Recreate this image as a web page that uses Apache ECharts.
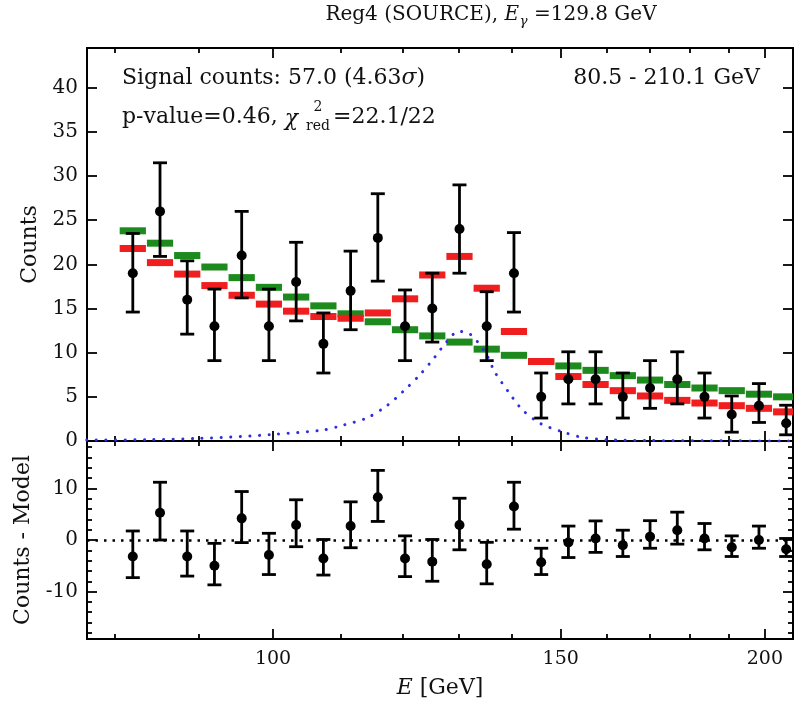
<!DOCTYPE html>
<html><head><meta charset="utf-8">
<script src="https://cdn.jsdelivr.net/npm/echarts@6/dist/echarts.min.js"></script>
<style>html,body{margin:0;padding:0;background:#fff}#c{width:794px;height:709px}</style>
</head><body><div id="c"></div>
<script>
// ---------------- data ----------------
const binEdges = [80.50, 83.65, 86.92, 90.32, 93.85, 97.53, 101.34, 105.31, 109.43, 113.71, 118.15, 122.78, 127.58,
  132.57, 137.76, 143.15, 148.75, 154.56, 160.61, 166.89, 173.42, 180.21, 187.26, 194.58, 202.19, 210.10];
const counts   = [19, 26, 16, 13, 21, 13, 18, 11, 17, 23, 13, 15, 24, 13, 19, 5, 7, 7, 5, 6, 7, 5, 3, 4, 2];
const countsLo = [14.6, 20.9, 12.1, 9.1, 16.2, 9.1, 13.6, 7.7, 12.6, 18.1, 9.1, 11.2, 19.0, 9.1, 14.6, 2.6, 4.2, 4.2, 2.6, 3.7, 4.2, 2.6, 1.0, 2.1, 0.7];
const countsHi = [23.5, 31.5, 20.4, 17.2, 26.0, 17.2, 22.5, 14.5, 21.5, 28.0, 17.1, 19.0, 29.0, 16.9, 23.6, 7.7, 10.1, 10.1, 7.7, 9.1, 10.1, 7.7, 5.1, 6.5, 4.05];
const modelTotal = [21.8, 20.2, 18.9, 17.6, 16.5, 15.5, 14.7, 14.1, 13.9, 14.5, 16.1, 18.8, 20.9, 17.3, 12.4, 9.0, 7.3, 6.4, 5.7, 5.1, 4.6, 4.3, 4.0, 3.7, 3.3];
const background = [23.8, 22.4, 21.0, 19.7, 18.5, 17.4, 16.3, 15.3, 14.4, 13.5, 12.6, 11.9, 11.2, 10.4, 9.7, 9.0, 8.5, 8.0, 7.4, 6.9, 6.4, 6.0, 5.7, 5.3, 5.0];
const residual   = [-3.2, 5.3, -3.2, -5.0, 4.2, -2.9, 2.9, -3.6, 2.7, 8.3, -3.6, -4.2, 2.9, -4.7, 6.5, -4.3, -0.5, 0.3, -1.0, 0.65, 1.9, 0.3, -1.4, 0.0, -1.8];
const residualLo = [-7.3, 0.0, -7.0, -8.7, -0.5, -6.7, -1.3, -6.8, -1.5, 3.6, -7.1, -8.0, -1.9, -8.5, 2.1, -6.7, -3.4, -2.4, -3.2, -1.6, -0.8, -1.9, -3.2, -1.6, -3.2];
const residualHi = [1.75, 11.2, 1.75, -0.65, 9.4, 1.3, 7.8, 0.1, 7.4, 13.5, 0.8, 0.1, 8.1, -0.45, 11.2, -1.6, 2.7, 3.7, 1.9, 3.75, 5.4, 3.2, 0.8, 2.7, 0.3];
const signalE = [76.9, 84.1, 90.2, 95.5, 100, 107.3, 110.4, 114.1, 117.4, 120.1, 123.0, 125.6, 127.8, 129.8, 131.8, 134.8, 136.7, 139.3, 142.0, 145.7, 150.3, 154.7, 160.0, 170.0, 185.0, 208.0];
const signalV = [0.1, 0.15, 0.3, 0.5, 0.75, 1.24, 1.8, 2.6, 4.0, 5.6, 7.5, 9.5, 11.3, 12.4, 12.2, 10.1, 7.8, 5.6, 3.6, 2.0, 1.05, 0.4, 0.15, 0.05, 0.02, 0.01];
const xMajorTicks = [100, 150, 200];
const xMinorTicks = [80, 90, 110, 120, 130, 140, 160, 170, 180, 190];
const yTopTicks = [0, 5, 10, 15, 20, 25, 30, 35, 40];
const yResMajor = [-10, 0, 10];
const yResMinor = [-18, -16, -14, -12, -8, -6, -4, -2, 2, 4, 6, 8, 12, 14, 16, 18];

// ---------------- layout ----------------
const FONT = 'DejaVu Serif';
const lg = v => Math.log10(v);
const X_MIN = lg(76.93), X_MAX = lg(208.1);
const G_LEFT = 87, G_W = 706;
const TOP_Y = 48, MID_Y = 441, BOT_Y = 639;

const ctx = document.createElement('canvas').getContext('2d');
function tw(text, size, style) { ctx.font = (style || '') + ' ' + size + 'px "' + FONT + '"'; return ctx.measureText(text).width; }

function xAxisDef(grid, pos, vals, len, label) {
  const a = {
    type: 'value', gridIndex: grid, position: pos, min: X_MIN, max: X_MAX,
    axisLine: { show: false, onZero: false }, splitLine: { show: false },
    axisTick: { show: true, inside: true, length: len, customValues: vals.map(lg), lineStyle: { color: '#000', width: 1.8 } },
    axisLabel: { show: !!label }
  };
  if (label) {
    a.axisLabel = { show: true, customValues: vals.map(lg), margin: 11, color: '#111', fontFamily: FONT, fontSize: 19,
      formatter: v => String(Math.round(Math.pow(10, v))) };
    a.name = '{i|E} [GeV]'; a.nameLocation = 'middle'; a.nameGap = 38;
    a.nameTextStyle = { color: '#111', fontFamily: FONT, fontSize: 22, rich: { i: { fontStyle: 'italic', fontFamily: FONT, fontSize: 22, color: '#111' } } };
  }
  return a;
}
function yAxisDef(grid, pos, min, max, vals, len, label, name, gap) {
  const a = {
    type: 'value', gridIndex: grid, position: pos, min: min, max: max,
    axisLine: { show: false, onZero: false }, splitLine: { show: false },
    axisTick: { show: true, inside: true, length: len, customValues: vals, lineStyle: { color: '#000', width: 1.8 } },
    axisLabel: { show: false }
  };
  if (label) {
    a.axisLabel = { show: true, customValues: vals, margin: 9, color: '#111', fontFamily: FONT, fontSize: 20 };
    a.name = name; a.nameLocation = 'middle'; a.nameGap = gap;
    a.nameTextStyle = { color: '#111', fontFamily: FONT, fontSize: 22 };
  }
  return a;
}

function barSeries(values, color, z) {
  return {
    type: 'custom', xAxisIndex: 0, yAxisIndex: 0, clip: true, z: z, silent: true,
    data: values.map((v, i) => [lg(binEdges[i]), lg(binEdges[i + 1]), v]),
    renderItem: (params, api) => {
      const p0 = api.coord([api.value(0), api.value(2)]);
      const p1 = api.coord([api.value(1), api.value(2)]);
      return { type: 'rect', shape: { x: p0[0] + 0.5, y: p0[1] - 3.5, width: p1[0] - p0[0] - 1, height: 7 }, style: { fill: color } };
    }
  };
}
function errSeries(xi, yi, vals, lo, hi, z) {
  return {
    type: 'custom', xAxisIndex: xi, yAxisIndex: yi, clip: false, z: z, silent: true,
    data: vals.map((v, i) => [lg(Math.sqrt(binEdges[i] * binEdges[i + 1])), v, lo[i], hi[i]]),
    renderItem: (params, api) => {
      const x = api.value(0);
      const pc = api.coord([x, api.value(1)]), pl = api.coord([x, api.value(2)]), ph = api.coord([x, api.value(3)]);
      const st = { stroke: '#000', lineWidth: 2.8 };
      const cw = 7;
      return { type: 'group', children: [
        { type: 'line', shape: { x1: pc[0], y1: pl[1], x2: pc[0], y2: ph[1] }, style: st },
        { type: 'line', shape: { x1: pc[0] - cw, y1: ph[1], x2: pc[0] + cw, y2: ph[1] }, style: st },
        { type: 'line', shape: { x1: pc[0] - cw, y1: pl[1], x2: pc[0] + cw, y2: pl[1] }, style: st },
        { type: 'circle', shape: { cx: pc[0], cy: pc[1], r: 5 }, style: { fill: '#000' } }
      ] };
    }
  };
}

const fnt = (size, style) => (style ? style + ' ' : '') + size + 'px "' + FONT + '"';
const txt = (x, y, text, size, extra) => ({
  type: 'text', x: x, y: y, silent: true,
  style: Object.assign({ text: text, fill: '#111', font: fnt(size), textAlign: 'left', textVerticalAlign: 'middle' }, extra || {})
});

// title pieces, centred at x = 491
const T1 = 'Reg4 (SOURCE), ', T2 = 'E', T3 = 'γ', T4 = ' =129.8 GeV';
const TS = 20, TSS = 13.5;
const tW = tw(T1, TS) + tw(T2, TS, 'italic') + 0.5 + tw(T3, TSS, 'italic') + tw(T4, TS);
const tx1 = 491 - tW / 2, tx2 = tx1 + tw(T1, TS), tx3 = tx2 + tw(T2, TS, 'italic') + 0.5, tx4 = tx3 + tw(T3, TSS, 'italic');

// chi^2 line pieces
const ANN = 22;
const pvText = 'p-value=0.46, ';
const chiX = 122 + tw(pvText, ANN);
const scriptX = chiX + tw('χ', ANN, 'italic') + 8;
const scriptW = Math.max(tw('red', 14), tw('2', 14));
const eqX = scriptX + scriptW + 3;

const option = {
  animation: false,
  backgroundColor: '#fff',
  grid: [
    { left: G_LEFT, top: TOP_Y, width: G_W, height: MID_Y - TOP_Y, show: true, borderColor: '#000', borderWidth: 2, containLabel: false },
    { left: G_LEFT, top: MID_Y, width: G_W, height: BOT_Y - MID_Y, show: true, borderColor: '#000', borderWidth: 2, containLabel: false }
  ],
  xAxis: [
    xAxisDef(0, 'bottom', xMajorTicks, 10, false),
    xAxisDef(0, 'bottom', xMinorTicks, 5, false),
    xAxisDef(0, 'top', xMajorTicks, 10, false),
    xAxisDef(0, 'top', xMinorTicks, 5, false),
    xAxisDef(1, 'bottom', xMajorTicks, 10, true),
    xAxisDef(1, 'bottom', xMinorTicks, 5, false),
    xAxisDef(1, 'top', xMajorTicks, 10, false),
    xAxisDef(1, 'top', xMinorTicks, 5, false)
  ],
  yAxis: [
    yAxisDef(0, 'left', 0, 44.5, yTopTicks, 10, true, 'Counts', 46),
    yAxisDef(0, 'right', 0, 44.5, yTopTicks, 10, false),
    yAxisDef(1, 'left', -19.2, 19.2, yResMajor, 10, true, 'Counts - Model', 53),
    yAxisDef(1, 'left', -19.2, 19.2, yResMinor, 5, false),
    yAxisDef(1, 'right', -19.2, 19.2, yResMajor, 10, false),
    yAxisDef(1, 'right', -19.2, 19.2, yResMinor, 5, false)
  ],
  series: [
    barSeries(background, '#1d8a1d', 2),
    barSeries(modelTotal, '#f01e1e', 3),
    {
      type: 'line', xAxisIndex: 0, yAxisIndex: 0, z: 4, silent: true, showSymbol: false, smooth: 0.3, clip: true,
      data: signalE.map((e, i) => [lg(e), signalV[i]]),
      lineStyle: { color: '#2f2fe0', width: 3, type: [0.1, 9.5], cap: 'round' }
    },
    errSeries(0, 0, counts, countsLo, countsHi, 5),
    Object.assign(errSeries(4, 2, residual, residualLo, residualHi, 5), {
      markLine: { silent: true, symbol: 'none', label: { show: false },
        lineStyle: { color: '#000', width: 2.5, type: [2.5, 6], cap: 'butt' }, data: [{ yAxis: 0 }] }
    })
  ],
  graphic: [
    txt(tx1, 15, T1, TS),
    txt(tx2, 15, T2, TS, { font: fnt(TS, 'italic') }),
    txt(tx3, 21, T3, TSS, { font: fnt(TSS, 'italic') }),
    txt(tx4, 15, T4, TS),
    {
      type: 'text', x: 122, y: 78, silent: true,
      style: {
        text: '{a|Signal counts: 57.0 (4.63}{i|σ}{a|)}', textAlign: 'left', textVerticalAlign: 'middle',
        rich: {
          a: { fontFamily: FONT, fontSize: ANN, fill: '#111' },
          i: { fontFamily: FONT, fontSize: ANN, fontStyle: 'italic', fill: '#111' }
        }
      }
    },
    txt(122, 117, pvText, ANN),
    txt(chiX, 119, 'χ', ANN, { font: fnt(ANN, 'italic') }),
    txt(scriptX + scriptW / 2, 107, '2', 14, { textAlign: 'center' }),
    txt(scriptX + scriptW / 2, 126, 'red', 14, { textAlign: 'center' }),
    txt(eqX, 117, '=22.1/22', ANN),
    txt(760, 78, '80.5 - 210.1 GeV', ANN, { textAlign: 'right' })
  ]
};

const chart = echarts.init(document.getElementById('c'), null, { renderer: 'canvas' });
chart.setOption(option);
</script>
</body></html>
